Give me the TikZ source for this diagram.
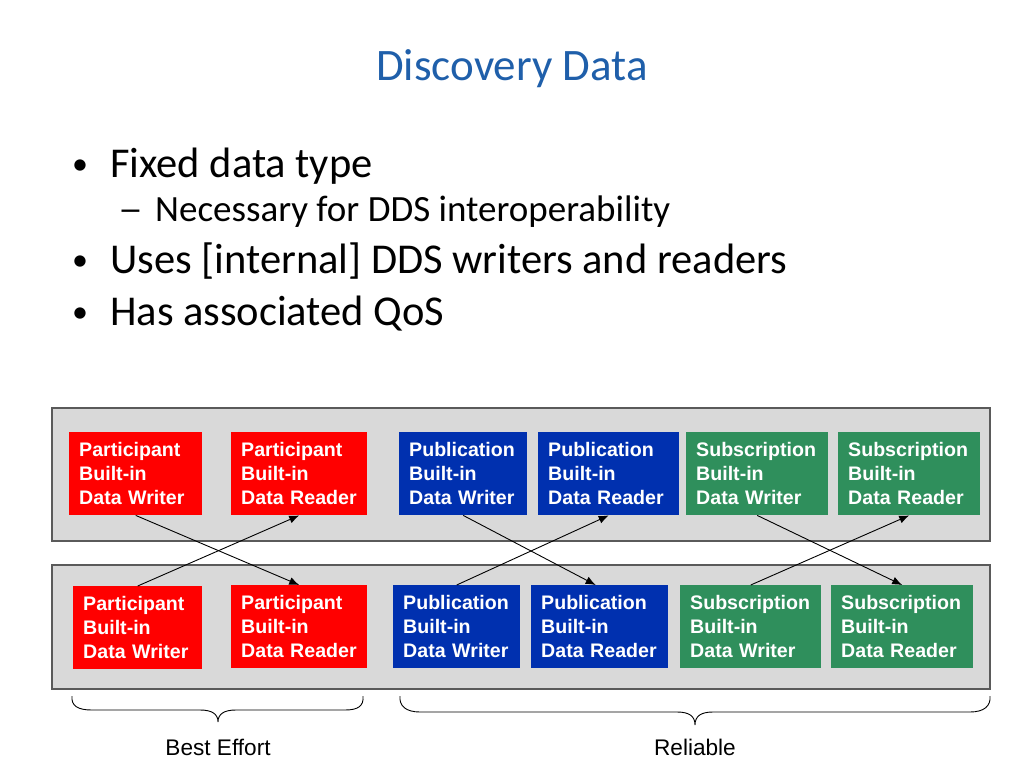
\documentclass[tikz,border=0pt]{standalone}
\usepackage{fontspec}
\setmainfont{Carlito}
\newfontfamily\arialf{Liberation Sans}
\usetikzlibrary{arrows.meta}
\definecolor{titleblue}{RGB}{31,95,170}
\definecolor{boxred}{RGB}{255,0,0}
\definecolor{boxblue}{RGB}{0,48,175}
\definecolor{boxgreen}{RGB}{47,143,92}
\definecolor{panelgray}{RGB}{217,217,217}
\definecolor{paneledge}{RGB}{90,90,90}
\begin{document}
\begin{tikzpicture}[x=1pt,y=-1pt,
  dbox/.style={rectangle, anchor=north west, text=white,
    font=\arialf\bfseries\fontsize{19.6}{24}\selectfont, align=left,
    inner xsep=10pt, inner ysep=0pt, minimum height=83pt},
  red/.style={dbox, fill=boxred},
  blue/.style={dbox, fill=boxblue},
  green/.style={dbox, fill=boxgreen},
  panel/.style={draw=paneledge, fill=panelgray, line width=1.3pt},
  link/.style={draw=black, line width=0.9pt, -{Latex[length=10pt,width=8pt]}},
  bigtxt/.style={anchor=base west, inner sep=0pt, font=\fontsize{42.5}{50}\selectfont},
  subtxt/.style={anchor=base west, inner sep=0pt, font=\fontsize{37}{42}\selectfont},
  dot/.style={anchor=base west, inner sep=0pt, font=\fontsize{32}{40}\selectfont},
  brace/.style={draw=black, line width=0.9pt},
  lbl/.style={inner sep=0pt, font=\arialf\fontsize{22.6}{26}\selectfont}]
\useasboundingbox (0,0) rectangle (1024,768);

% title and bullets
\node[anchor=base, inner sep=0pt, text=titleblue, font=\fontsize{45}{54}\selectfont] (title) at (512,80) {Discovery Data};
\node[dot] (b1dot) at (72,174) {•};
\node[bigtxt] (bl1) at (110,177) {Fixed data type};
\node[subtxt] (s1dash) at (118,221) {\scalebox{1.35}[1]{–}};
\node[subtxt] (sl1) at (155,221) {Necessary for DDS interoperability};
\node[dot] (b2dot) at (72,270) {•};
\node[bigtxt] (bl2) at (110,273) {Uses [internal] DDS writers and readers};
\node[dot] (b3dot) at (72,322) {•};
\node[bigtxt] (bl3) at (110,325) {Has associated QoS};

% panels
\path[panel] (52,408) rectangle (990,541);
\path[panel] (52,565) rectangle (990,689);

% top row
\node[red,   text width=113pt] (t1) at (69,432)  {Participant\\Built-in\\Data Writer};
\node[red,   text width=116pt] (t2) at (231,432) {Participant\\Built-in\\Data Reader};
\node[blue,  text width=108pt] (t3) at (399,432) {Publication\\Built-in\\Data Writer};
\node[blue,  text width=121pt] (t4) at (538,432) {Publication\\Built-in\\Data Reader};
\node[green, text width=122pt] (t5) at (686,432) {Subscription\\Built-in\\Data Writer};
\node[green, text width=122pt] (t6) at (838,432) {Subscription\\Built-in\\Data Reader};

% bottom row
\node[red,   text width=109pt] (u1) at (73,586)  {Participant\\Built-in\\Data Writer};
\node[red,   text width=116pt] (u2) at (231,585) {Participant\\Built-in\\Data Reader};
\node[blue,  text width=107pt] (u3) at (393,585) {Publication\\Built-in\\Data Writer};
\node[blue,  text width=117pt] (u4) at (531,585) {Publication\\Built-in\\Data Reader};
\node[green, text width=121pt] (u5) at (680,585) {Subscription\\Built-in\\Data Writer};
\node[green, text width=122pt] (u6) at (831,585) {Subscription\\Built-in\\Data Reader};

% connectors
\draw[link] (t1.south) -- (u2.north);
\draw[link] (u1.north) -- (t2.south);
\draw[link] (t3.south) -- ([xshift=-4pt]u4.north);
\draw[link] (u3.north) -- (t4.south);
\draw[link] (t5.south) -- (u6.north);
\draw[link] (u5.north) -- (t6.south);

% braces
\draw[brace] (72,696) .. controls (71,706) and (78,710) .. (92,710) -- (200,710)
  .. controls (212,710) and (218,714) .. (218,722)
  .. controls (218,714) and (224,710) .. (236,710) -- (345,710)
  .. controls (358,710) and (364,706) .. (363,696);
\draw[brace] (400,696) .. controls (399,706) and (406,712) .. (420,712) -- (677,712)
  .. controls (689,712) and (695,716) .. (695,725)
  .. controls (695,716) and (701,712) .. (713,712) -- (970,712)
  .. controls (984,712) and (991,706) .. (990,696);
\node[lbl] (be) at (218,747) {Best Effort};
\node[lbl] (rel) at (695,747) {Reliable};
\end{tikzpicture}
\end{document}
